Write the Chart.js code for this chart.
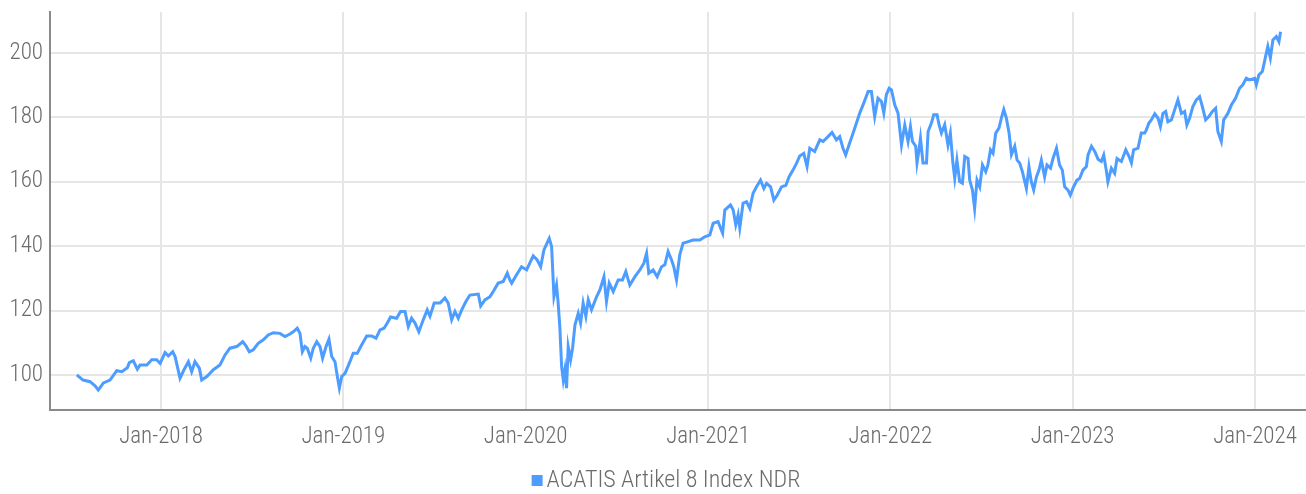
<!DOCTYPE html>
<html><head><meta charset="utf-8">
<script src="https://cdn.jsdelivr.net/npm/chart.js@4.4.1/dist/chart.umd.min.js"></script>
<style>html,body{margin:0;padding:0;background:#fff}#wrap{width:1306px;height:494px;position:relative}</style>
</head><body><div id="wrap"><canvas id="c"></canvas></div>
<script>
const seriesName = 'ACATIS Artikel 8 Index NDR';
// dates as decimal years
const dates = [
2017.538,2017.572,2017.611,2017.638,2017.656,2017.684,2017.720,2017.757,2017.785,2017.815,2017.826,2017.848,2017.870,2017.885,2017.922,2017.949,2017.976,2017.995,2018.022,2018.040,2018.064,2018.077,2018.104,2018.126,2018.150,2018.168,2018.186,2018.210,2018.223,2018.251,2018.287,2018.323,2018.351,2018.378,2018.415,2018.448,2018.466,2018.484,2018.506,2018.533,2018.561,2018.588,2018.616,2018.652,
2018.680,2018.707,2018.725,2018.747,2018.762,2018.775,2018.789,2018.802,2018.821,2018.835,2018.854,2018.872,2018.886,2018.905,2018.921,2018.936,2018.954,2018.967,2018.978,2018.991,2019.009,2019.036,2019.054,2019.076,2019.100,2019.128,2019.155,2019.179,2019.201,2019.223,2019.241,2019.259,2019.292,2019.314,2019.338,2019.356,2019.374,2019.393,2019.414,2019.438,2019.460,2019.475,2019.498,2019.530,2019.557,2019.575,2019.594,2019.612,2019.630,2019.649,2019.672,2019.694,2019.740,2019.753,2019.776,2019.804,2019.822,2019.849,2019.877,2019.899,2019.913,
2019.923,2019.950,2019.977,2020.005,2020.041,2020.063,2020.082,2020.100,2020.129,2020.142,2020.155,2020.169,2020.178,2020.187,2020.197,2020.206,2020.215,2020.224,2020.233,2020.246,2020.257,2020.270,2020.288,2020.301,2020.315,2020.330,2020.343,2020.361,2020.389,2020.407,2020.429,2020.443,2020.458,2020.480,2020.507,2020.531,2020.549,2020.571,2020.599,2020.626,2020.648,2020.663,2020.675,2020.699,2020.721,2020.745,2020.763,2020.781,2020.800,2020.812,2020.827,2020.845,2020.863,2020.891,2020.918,2020.955,2020.982,
2021.010,2021.028,2021.055,2021.080,2021.092,2021.123,2021.138,2021.152,2021.165,2021.174,2021.192,2021.211,2021.229,2021.247,2021.266,2021.288,2021.306,2021.321,2021.343,2021.361,2021.379,2021.403,2021.427,2021.444,2021.466,2021.485,2021.503,2021.525,2021.543,2021.558,2021.585,2021.613,2021.631,2021.658,2021.680,2021.704,2021.722,2021.740,2021.755,2021.773,2021.792,2021.814,2021.832,2021.854,2021.878,2021.896,2021.914,2021.932,2021.951,2021.964,2021.978,2021.993,
2022.006,2022.024,2022.042,2022.061,2022.079,2022.097,2022.110,2022.121,2022.139,2022.146,2022.157,2022.165,2022.179,2022.198,2022.207,2022.225,2022.238,2022.256,2022.267,2022.280,2022.298,2022.316,2022.329,2022.343,2022.353,2022.365,2022.380,2022.395,2022.408,2022.426,2022.435,2022.450,2022.462,2022.475,2022.490,2022.505,2022.523,2022.535,2022.549,2022.563,2022.578,2022.596,2022.609,2022.622,2022.636,2022.651,2022.664,2022.682,2022.695,2022.709,2022.724,2022.746,2022.760,2022.773,2022.786,2022.801,2022.815,2022.828,2022.846,2022.859,2022.878,2022.892,2022.911,2022.928,2022.943,2022.956,2022.974,2022.987,
2023.001,2023.023,2023.038,2023.056,2023.075,2023.084,2023.103,2023.121,2023.139,2023.157,2023.170,2023.184,2023.193,2023.212,2023.230,2023.243,2023.267,2023.291,2023.309,2023.322,2023.334,2023.358,2023.376,2023.395,2023.404,2023.418,2023.431,2023.450,2023.468,2023.481,2023.495,2023.510,2023.522,2023.541,2023.559,2023.577,2023.596,2023.614,2023.626,2023.641,2023.659,2023.678,2023.696,2023.711,2023.729,2023.747,2023.766,2023.784,2023.796,2023.815,2023.828,2023.851,2023.870,2023.893,2023.915,2023.933,2023.952,2023.970,2023.998,
2024.007,2024.021,2024.040,2024.058,2024.070,2024.084,2024.098,2024.117,2024.131,2024.140
];
const values = [
100,98.4,97.9,96.6,95.3,97.5,98.4,101.3,101,102.2,103.8,104.4,101.8,103.1,103.1,104.7,104.7,103.6,106.9,105.9,107.2,105.7,99,101.6,104.1,101,104.1,102.1,98.4,99.5,101.6,103.1,106.2,108.3,108.8,110.3,109,107.2,107.8,109.8,110.9,112.4,113.1,112.9,
111.9,112.7,113.4,114.5,112.9,107.2,108.8,108.3,105.2,108.3,110.3,108.8,105.2,108.8,111.1,105.7,104.1,99.5,95.9,99.5,100.5,104.1,106.7,106.7,109.3,112.1,112.1,111.4,114,114.5,116.1,118,117.6,119.7,119.7,115,117.6,116.1,113.4,117.1,120.2,118.2,122.3,122.3,123.9,122.3,117.1,119.7,117.6,120.2,122.8,124.8,125.1,121.4,123.3,124.3,125.9,128.5,129,131.6,129.5,
128.5,131.1,133.6,132.6,137,135.7,133.6,138.8,142.4,139.9,124.3,127.9,122.3,115,102.6,98.4,101.6,95.9,108.8,104.7,108.3,115.5,119.1,116.1,122.3,118.2,123.3,120.2,124.3,126.4,130.5,122.8,128.5,125.9,129.5,129.5,132.1,127.9,130.5,132.6,134.7,137.8,131.6,132.6,130.5,133.6,134.2,138.3,135.7,133.6,129.5,137.3,140.9,141.4,141.9,141.9,142.9,
143.5,147.1,147.6,144,151.2,152.8,151.2,146.6,149.7,145.6,153.3,153.8,151.7,156.4,158.4,160.5,157.9,159.5,158.4,154.3,155.8,158.4,158.9,161.5,163.6,165.7,168,168.8,164.7,170.4,169.4,173,172.5,174,175.3,173,174,170.4,168.3,171.4,174.5,178.2,181.3,184.4,188,188,180.2,185.9,184.9,181.3,187,189,
188.5,183.9,181.3,171.4,177.6,172.5,177.1,172.5,171,165.8,169.9,173.5,165.8,165.8,175.6,178.2,180.8,180.8,177.7,175.1,177.7,171.4,175.1,165.8,161.1,166.7,160,159.5,167.8,167.2,160.5,157.4,151.7,160.5,158.4,165.2,163.1,165.2,169.9,168.8,175.1,176.7,179.8,182.4,179.8,175.1,168.4,171,166.7,165.8,163.1,157.9,164.7,160,157.4,161.5,163.6,166.7,161.5,165.2,164.2,167.2,170.4,165.2,163.6,158.4,157.4,155.8,
157.9,160.5,161,163.6,164.7,168.3,171,169.4,167,166.3,168.3,163.6,160,164.2,162.6,167.2,166.3,169.9,167.8,165.8,169.9,170.4,175.1,175.1,176.1,178.2,179.2,181.1,179.7,177.1,181.2,181.8,178.6,179.2,182.3,185.4,181.2,181.8,177.6,179.7,183.3,185.4,186.4,183.3,179.2,180.2,181.8,182.8,175.6,172.5,179.2,181.2,183.8,185.9,189,190.1,192.1,191.6,192.1,
190.1,193.2,194.2,198.9,202,198.4,204,205.1,203.5,206.6
];
const yTickValues = [100, 120, 140, 160, 180, 200];
const xTickYears = [2018, 2019, 2020, 2021, 2022, 2023, 2024];
const xTickLabels = ['Jan-2018','Jan-2019','Jan-2020','Jan-2021','Jan-2022','Jan-2023','Jan-2024'];

function hasFont(name){
  const c = document.createElement('canvas').getContext('2d');
  const s = 'Jan-2018 ACATIS Artikel';
  c.font = '40px monospace'; const a = c.measureText(s).width;
  c.font = '40px "' + name + '", monospace'; const b = c.measureText(s).width;
  return Math.abs(a - b) > 0.5;
}
let family = 'Roboto', weight = '300';
if (hasFont('Liberation Sans Narrow')) { family = '"Liberation Sans Narrow"'; weight = '400'; }
else if (hasFont('Roboto Condensed')) { family = '"Roboto Condensed"'; weight = '300'; }
// sizes chosen so that the texts have the reference widths
const mctx = document.createElement('canvas').getContext('2d');
mctx.font = weight + ' 40px ' + family;
let fsize = Math.round(40 * 84 / mctx.measureText('Jan-2018').width);
fsize = Math.max(18, Math.min(25, fsize));
let lsize = Math.round(40 * 253 / mctx.measureText(seriesName).width);
lsize = Math.max(18, Math.min(25, lsize));
const textColor = '#6b6b6b';
const lineColor = '#4d9cff';

const legendPlugin = {
  id: 'bottomLegend',
  afterDraw(chart) {
    const ctx = chart.ctx;
    const ds = chart.data.datasets[0];
    ctx.save();
    ctx.font = weight + ' ' + lsize + 'px ' + family;
    const tw = ctx.measureText(ds.label).width;
    const box = 11, gap = 4;
    const total = box + gap + tw;
    const cx = 666;
    const x0 = cx - total / 2;
    const cy = 480.5;
    ctx.fillStyle = ds.borderColor;
    ctx.fillRect(x0, cy - box / 2, box, box);
    ctx.fillStyle = textColor;
    ctx.textBaseline = 'middle';
    ctx.textAlign = 'left';
    ctx.fillText(ds.label, x0 + box + gap, cy);
    ctx.restore();
  }
};

const tickFont = { family: family, size: fsize, weight: weight };

new Chart(document.getElementById('c'), {
  type: 'line',
  data: {
    datasets: [{
      label: seriesName,
      data: dates.map((d, i) => ({ x: d, y: values[i] })),
      borderColor: lineColor,
      backgroundColor: lineColor,
      borderWidth: 3,
      pointRadius: 0,
      tension: 0,
      fill: false
    }]
  },
  options: {
    responsive: true,
    maintainAspectRatio: false,
    animation: false,
    layout: { padding: { top: 12, right: 1, left: 0, bottom: 44 } },
    plugins: { legend: { display: false }, tooltip: { enabled: false } },
    scales: {
      x: {
        type: 'linear',
        min: 2017.391,
        max: 2024.274,
        afterBuildTicks: s => { s.ticks = xTickYears.map(v => ({ value: v })); },
        afterFit: s => { s.height = 40; s.paddingLeft = 0; s.paddingRight = 0; },
        ticks: {
          autoSkip: false, maxRotation: 0, padding: 13,
          color: textColor, font: tickFont,
          callback: (v, i) => xTickLabels[i]
        },
        grid: { color: '#e6e6e6', lineWidth: 2, drawTicks: false },
        border: { display: true, color: '#8a8a8a', width: 2 }
      },
      y: {
        min: 89.1,
        max: 212.7,
        afterBuildTicks: s => { s.ticks = yTickValues.map(v => ({ value: v })); },
        afterFit: s => { s.width = 50; s.paddingTop = 0; s.paddingBottom = 0; },
        ticks: { padding: 7, color: textColor, font: tickFont },
        grid: { color: '#e6e6e6', lineWidth: 2, drawTicks: false },
        border: { display: true, color: '#8a8a8a', width: 2 }
      }
    }
  },
  plugins: [legendPlugin]
});
</script>
</body></html>
